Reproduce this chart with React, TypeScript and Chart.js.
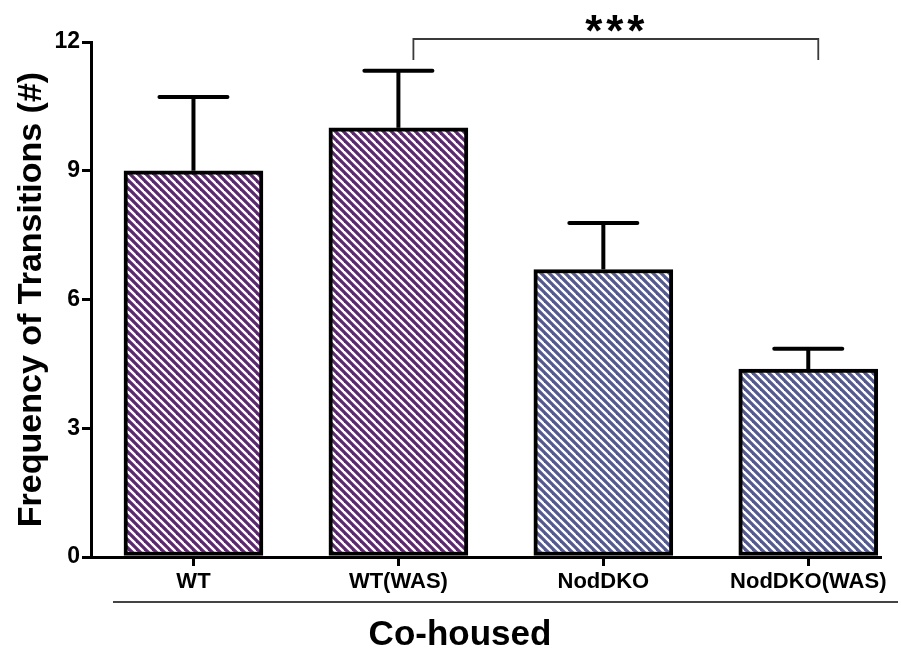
import React, { useEffect, useRef } from 'react';
import { Chart, registerables } from 'chart.js';

Chart.register(...registerables);

const categories = ['WT', 'WT(WAS)', 'NodDKO', 'NodDKO(WAS)'];
const means = [9.0, 10.0, 6.7, 4.38];
const sem = [1.72, 1.33, 1.08, 0.47];
const yTickValues = [0, 3, 6, 9, 12];
const barColors = ['#5a2b6c', '#5a2b6c', '#555a8d', '#555a8d'];
const yTitle = 'Frequency of Transitions (#)';
const groupTitle = 'Co-housed';
const sigLabel = '***';
const sigFrom = 1;
const sigTo = 3;

const FONT = '"Liberation Sans", Arial, Helvetica, sans-serif';

function makeHatch(color: string) {
  const c = document.createElement('canvas');
  c.width = 8;
  c.height = 8;
  const g = c.getContext('2d') as CanvasRenderingContext2D;
  g.fillStyle = color;
  g.fillRect(0, 0, 8, 8);
  g.strokeStyle = '#ffffff';
  g.lineWidth = 2.4;
  for (const k of [-8, 0, 8]) {
    g.beginPath();
    g.moveTo(k - 1, -1);
    g.lineTo(k + 9, 9);
    g.stroke();
  }
  return g.createPattern(c, 'repeat') as CanvasPattern;
}

const decorations = {
  id: 'decorations',
  afterDatasetsDraw(chart: any) {
    const { ctx } = chart;
    const xs = chart.scales.x;
    const ys = chart.scales.y;
    ctx.save();
    ctx.strokeStyle = '#000';
    ctx.lineWidth = 4;
    means.forEach((m, i) => {
      const x = xs.getPixelForValue(i);
      const y0 = ys.getPixelForValue(m);
      const y1 = ys.getPixelForValue(m + sem[i]);
      ctx.lineCap = 'butt';
      ctx.beginPath();
      ctx.moveTo(x, y0);
      ctx.lineTo(x, y1);
      ctx.stroke();
      ctx.lineCap = 'round';
      ctx.beginPath();
      ctx.moveTo(x - 34, y1);
      ctx.lineTo(x + 34, y1);
      ctx.stroke();
    });
    ctx.restore();
  },
  afterDraw(chart: any) {
    const { ctx } = chart;
    const xs = chart.scales.x;
    const ys = chart.scales.y;
    ctx.save();
    const xl = xs.getPixelForValue(sigFrom) + 15;
    const xr = xs.getPixelForValue(sigTo) + 10;
    const yTop = ys.getPixelForValue(12.07);
    const yBot = ys.getPixelForValue(11.58);
    ctx.strokeStyle = '#3a3a3a';
    ctx.lineWidth = 1.8;
    ctx.beginPath();
    ctx.moveTo(xl, yBot);
    ctx.lineTo(xl, yTop);
    ctx.lineTo(xr, yTop);
    ctx.lineTo(xr, yBot);
    ctx.stroke();
    ctx.fillStyle = '#000';
    ctx.font = `bold 44px ${FONT}`;
    ctx.textAlign = 'center';
    ctx.textBaseline = 'alphabetic';
    const mid = (xl + xr) / 2 - 1;
    const chars = sigLabel.split('');
    chars.forEach((ch, k) => {
      ctx.fillText(ch, mid + (k - (chars.length - 1) / 2) * 21, 46);
    });
    const b = chart.chartArea.bottom;
    ctx.strokeStyle = '#444';
    ctx.lineWidth = 2;
    ctx.beginPath();
    ctx.moveTo(113, b + 45);
    ctx.lineTo(898, b + 45);
    ctx.stroke();
    ctx.font = `bold 35px ${FONT}`;
    ctx.textBaseline = 'middle';
    ctx.fillText(groupTitle, 460, b + 78);
    ctx.restore();
  },
};

export default function App() {
  const ref = useRef<HTMLCanvasElement | null>(null);
  useEffect(() => {
    if (!ref.current) return;
    const chart = new Chart(ref.current, {
      type: 'bar',
      data: {
        datasets: [
          {
            data: means.map((m, i) => ({ x: i, y: m })),
            backgroundColor: barColors.map((c) => makeHatch(c)),
            borderColor: '#000',
            borderWidth: 4,
            borderSkipped: false,
            barThickness: 139,
          } as any,
        ],
      },
      options: {
        responsive: false,
        animation: false,
        layout: { padding: { top: 42, right: 21, left: 0, bottom: 0 } },
        plugins: { legend: { display: false }, tooltip: { enabled: false } },
        scales: {
          x: {
            type: 'linear',
            offset: false,
            min: -0.5,
            max: 3.35,
            afterBuildTicks: (s: any) => {
              s.ticks = categories.map((_, i) => ({ value: i }));
            },
            afterFit: (s: any) => {
              s.height = 93;
            },
            ticks: {
              autoSkip: false,
              maxRotation: 0,
              color: '#000',
              padding: 3,
              font: { family: FONT, size: 22, weight: 'bold' },
              callback: (v: any) => categories[v] ?? '',
            },
            grid: {
              display: true,
              offset: false,
              drawOnChartArea: false,
              drawTicks: true,
              tickLength: 9,
              color: '#000',
              lineWidth: 3,
            },
            border: { display: true, color: '#000', width: 3 },
          },
          y: {
            min: 0,
            max: 12,
            afterBuildTicks: (s: any) => {
              s.ticks = yTickValues.map((v) => ({ value: v }));
            },
            afterFit: (s: any) => {
              s.width = 91;
            },
            ticks: {
              color: '#000',
              padding: 2,
              font: { family: FONT, size: 23, weight: 'bold' },
            },
            grid: {
              display: true,
              drawOnChartArea: false,
              drawTicks: true,
              tickLength: 9,
              color: '#000',
              lineWidth: 3,
            },
            border: { display: true, color: '#000', width: 3 },
            title: {
              display: true,
              text: yTitle,
              color: '#000',
              padding: { top: 11, bottom: 0 },
              font: { family: FONT, size: 34, weight: 'bold' },
            },
          },
        },
      } as any,
      plugins: [decorations],
    });
    return () => chart.destroy();
  }, []);
  return (
    <div style={{ position: 'fixed', left: 0, top: 0, width: 901, height: 650, background: '#fff' }}>
      <canvas ref={ref} width={901} height={650} />
    </div>
  );
}
